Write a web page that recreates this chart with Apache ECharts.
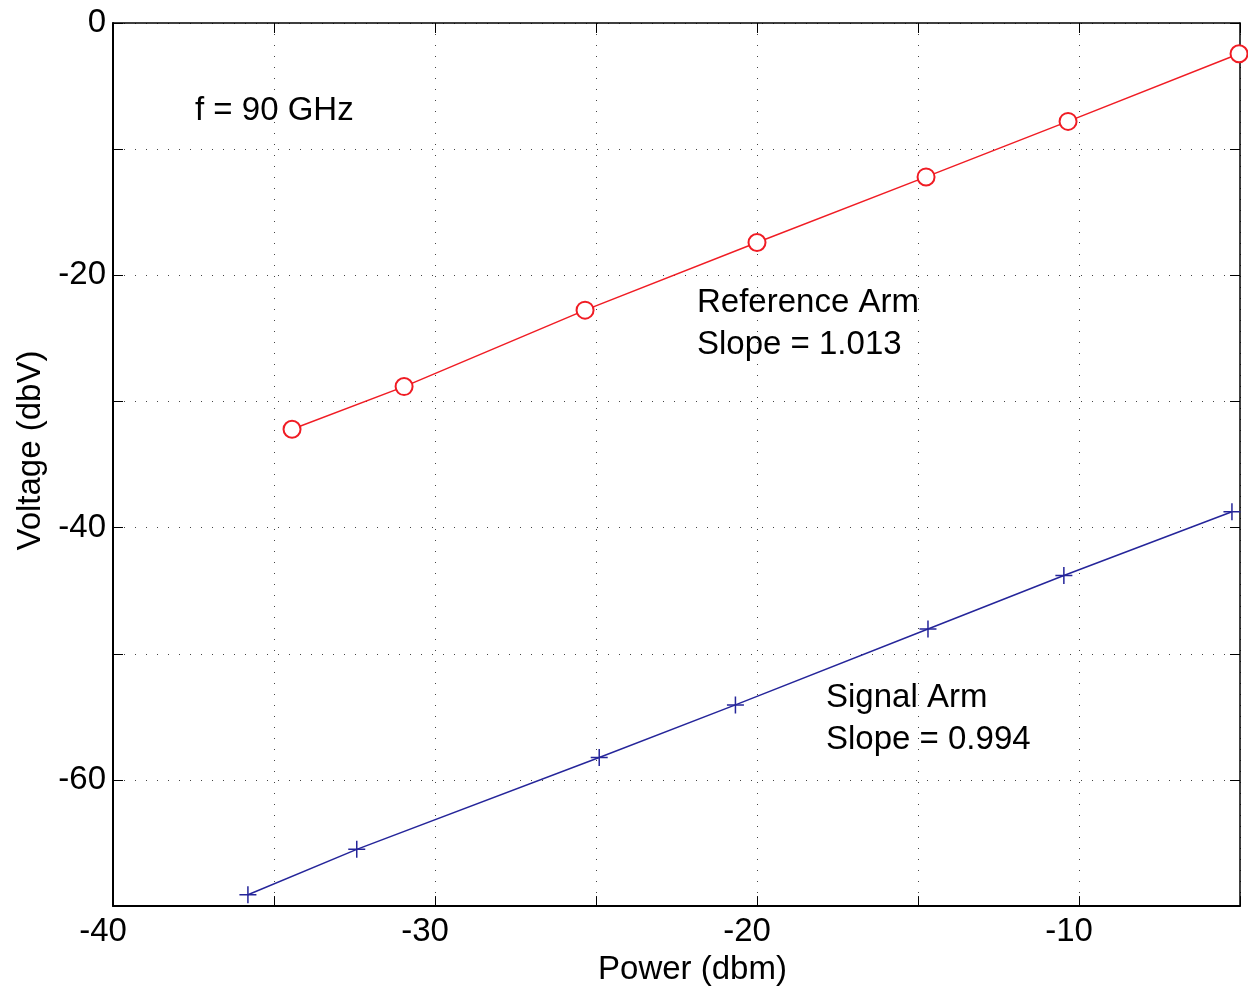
<!DOCTYPE html>
<html>
<head>
<meta charset="utf-8">
<script src="https://cdn.jsdelivr.net/npm/echarts@6/dist/echarts.min.js"></script>
<style>
html,body{margin:0;padding:0;background:#fff;overflow:hidden;}
#c{width:1248px;height:991px;}
</style>
</head>
<body>
<div id="c"></div>
<script>
// Data
const refPower = [-34.44, -30.96, -25.34, -20.0, -14.75, -10.34, -5.03];
const refVolt  = [-32.2, -28.82, -22.76, -17.4, -12.2, -7.8, -2.44];
const sigPower = [-35.81, -32.43, -24.9, -20.67, -14.69, -10.47, -5.25];
const sigVolt  = [-69.1, -65.5, -58.22, -54.05, -48.03, -43.8, -38.74];
const xTicksLabeled = [-40, -30, -20, -10];
const yTicksLabeled = [0, -20, -40, -60];

const FONT = 'Liberation Sans';
const FS = 33;
const RED = '#f01c24';
const BLUE = '#25259a';

const chart = echarts.init(document.getElementById('c'), null, {renderer: 'canvas'});

const gridDash = {color: '#444', width: 1, type: [1, 10]};
const tickStyle = {color: '#000', width: 1};
const txt = (s, left, cy) => ({
  type: 'text', left: left, top: cy - 17,
  style: {text: s, font: FS + 'px "' + FONT + '"', fill: '#000'}
});

const option = {
  backgroundColor: '#fff',
  animation: false,
  grid: {left: 113, top: 23, right: 8, bottom: 80, containLabel: false},
  xAxis: [{
    type: 'value', min: -40, max: -5, interval: 5, position: 'bottom',
    name: 'Power (dbm)', nameLocation: 'middle', nameGap: 40,
    nameTextStyle: {fontFamily: FONT, fontSize: FS, color: '#000', padding: [0, 0, 0, 32]},
    axisLine: {show: true, onZero: false, lineStyle: {color: '#000', width: 2}},
    axisTick: {show: true, inside: true, length: 10, lineStyle: tickStyle},
    axisLabel: {
      fontFamily: FONT, fontSize: FS, color: '#000', margin: 9, padding: [0, 20, 0, 0],
      formatter: v => xTicksLabeled.includes(v) ? String(v) : ''
    },
    splitLine: {show: true, lineStyle: gridDash}
  }, {
    type: 'value', min: -40, max: -5, interval: 5, position: 'top',
    axisLine: {show: true, onZero: false, lineStyle: {color: '#000', width: 1.5}},
    axisTick: {show: true, inside: true, length: 10, lineStyle: tickStyle},
    axisLabel: {show: false}, splitLine: {show: false}
  }],
  yAxis: [{
    type: 'value', min: -70, max: 0, interval: 10, position: 'left',
    name: 'Voltage (dbV)', nameLocation: 'middle', nameGap: 62, nameRotate: 90,
    nameTextStyle: {fontFamily: FONT, fontSize: FS, color: '#000', padding: [0, 0, 0, 28]},
    axisLine: {show: true, onZero: false, lineStyle: {color: '#000', width: 2}},
    axisTick: {show: true, inside: true, length: 10, lineStyle: tickStyle},
    axisLabel: {
      fontFamily: FONT, fontSize: FS, color: '#000', margin: 7,
      formatter: v => yTicksLabeled.includes(v) ? String(v) : ''
    },
    splitLine: {show: true, lineStyle: gridDash}
  }, {
    type: 'value', min: -70, max: 0, interval: 10, position: 'right',
    axisLine: {show: true, onZero: false, lineStyle: {color: '#000', width: 1.5}},
    axisTick: {show: true, inside: true, length: 10, lineStyle: tickStyle},
    axisLabel: {show: false}, splitLine: {show: false}
  }],
  series: [{
    name: 'Reference Arm', type: 'line', xAxisIndex: 0, yAxisIndex: 0,
    data: refPower.map((p, i) => [p, refVolt[i]]),
    symbol: 'emptyCircle', symbolSize: 17, clip: false,
    lineStyle: {color: RED, width: 1.5},
    itemStyle: {color: RED, borderColor: RED, borderWidth: 1.5}
  }, {
    name: 'Signal Arm', type: 'line', xAxisIndex: 0, yAxisIndex: 0,
    data: sigPower.map((p, i) => [p, sigVolt[i]]),
    symbol: 'path://M0,8 L16,8 M8,0 L8,16', symbolSize: 17, clip: false,
    lineStyle: {color: BLUE, width: 1.5},
    itemStyle: {color: BLUE, borderColor: BLUE, borderWidth: 1.5}
  }],
  graphic: [
    txt('f = 90 GHz', 195, 111),
    txt('Reference Arm', 697, 303),
    txt('Slope = 1.013', 697, 345),
    txt('Signal Arm', 826, 698),
    txt('Slope = 0.994', 826, 740)
  ]
};
chart.setOption(option);
</script>
</body>
</html>
